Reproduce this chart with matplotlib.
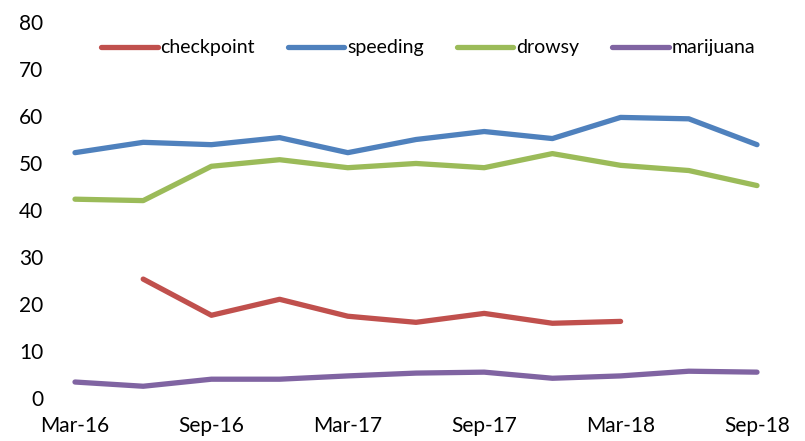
import numpy as np
import matplotlib.pyplot as plt

plt.rcParams['font.family'] = ['Lato', 'DejaVu Sans']

# quarterly survey points, Mar-16 .. Sep-18
quarters = ['Mar-16', 'Jun-16', 'Sep-16', 'Dec-16', 'Mar-17', 'Jun-17',
            'Sep-17', 'Dec-17', 'Mar-18', 'Jun-18', 'Sep-18']
checkpoint = [np.nan, 25.3, 17.6, 21.0, 17.4, 16.1, 18.0, 15.9, 16.3, np.nan, np.nan]
speeding = [52.2, 54.4, 53.9, 55.4, 52.2, 55.0, 56.7, 55.2, 59.7, 59.4, 53.9]
drowsy = [42.3, 42.0, 49.3, 50.7, 49.0, 49.9, 49.0, 52.0, 49.5, 48.4, 45.2]
marijuana = [3.4, 2.5, 4.0, 4.0, 4.7, 5.3, 5.5, 4.2, 4.7, 5.7, 5.5]

series = [('checkpoint', checkpoint, '#C0504D'),
          ('speeding', speeding, '#4F81BD'),
          ('drowsy', drowsy, '#9BBB59'),
          ('marijuana', marijuana, '#8064A2')]

fig = plt.figure(figsize=(8.05, 4.41), dpi=100)
ax = fig.add_axes([75/805, 43/441, (757-75)/805, (419-43)/441])

x = np.arange(len(quarters))
for name, vals, col in series:
    ax.plot(x, vals, color=col, lw=3.8, solid_capstyle='round',
            solid_joinstyle='round', label=name, clip_on=False)

ax.set_xlim(0, len(quarters) - 1)
ax.set_ylim(0, 80)
ax.set_yticks(range(0, 81, 10))
ax.set_xticks(x[::2])
ax.set_xticklabels(quarters[::2])
for s in ax.spines.values():
    s.set_visible(False)
ax.tick_params(axis='both', length=0, labelsize=15, colors='black')
ax.tick_params(axis='x', pad=13)
ax.tick_params(axis='y', pad=23)

leg = ax.legend(loc='upper center', bbox_to_anchor=(0.518, 1.0), ncol=4,
                frameon=False, fontsize=14, handlelength=2.9,
                handletextpad=0.15, columnspacing=1.7)

fig.savefig('out.png', dpi=100)
